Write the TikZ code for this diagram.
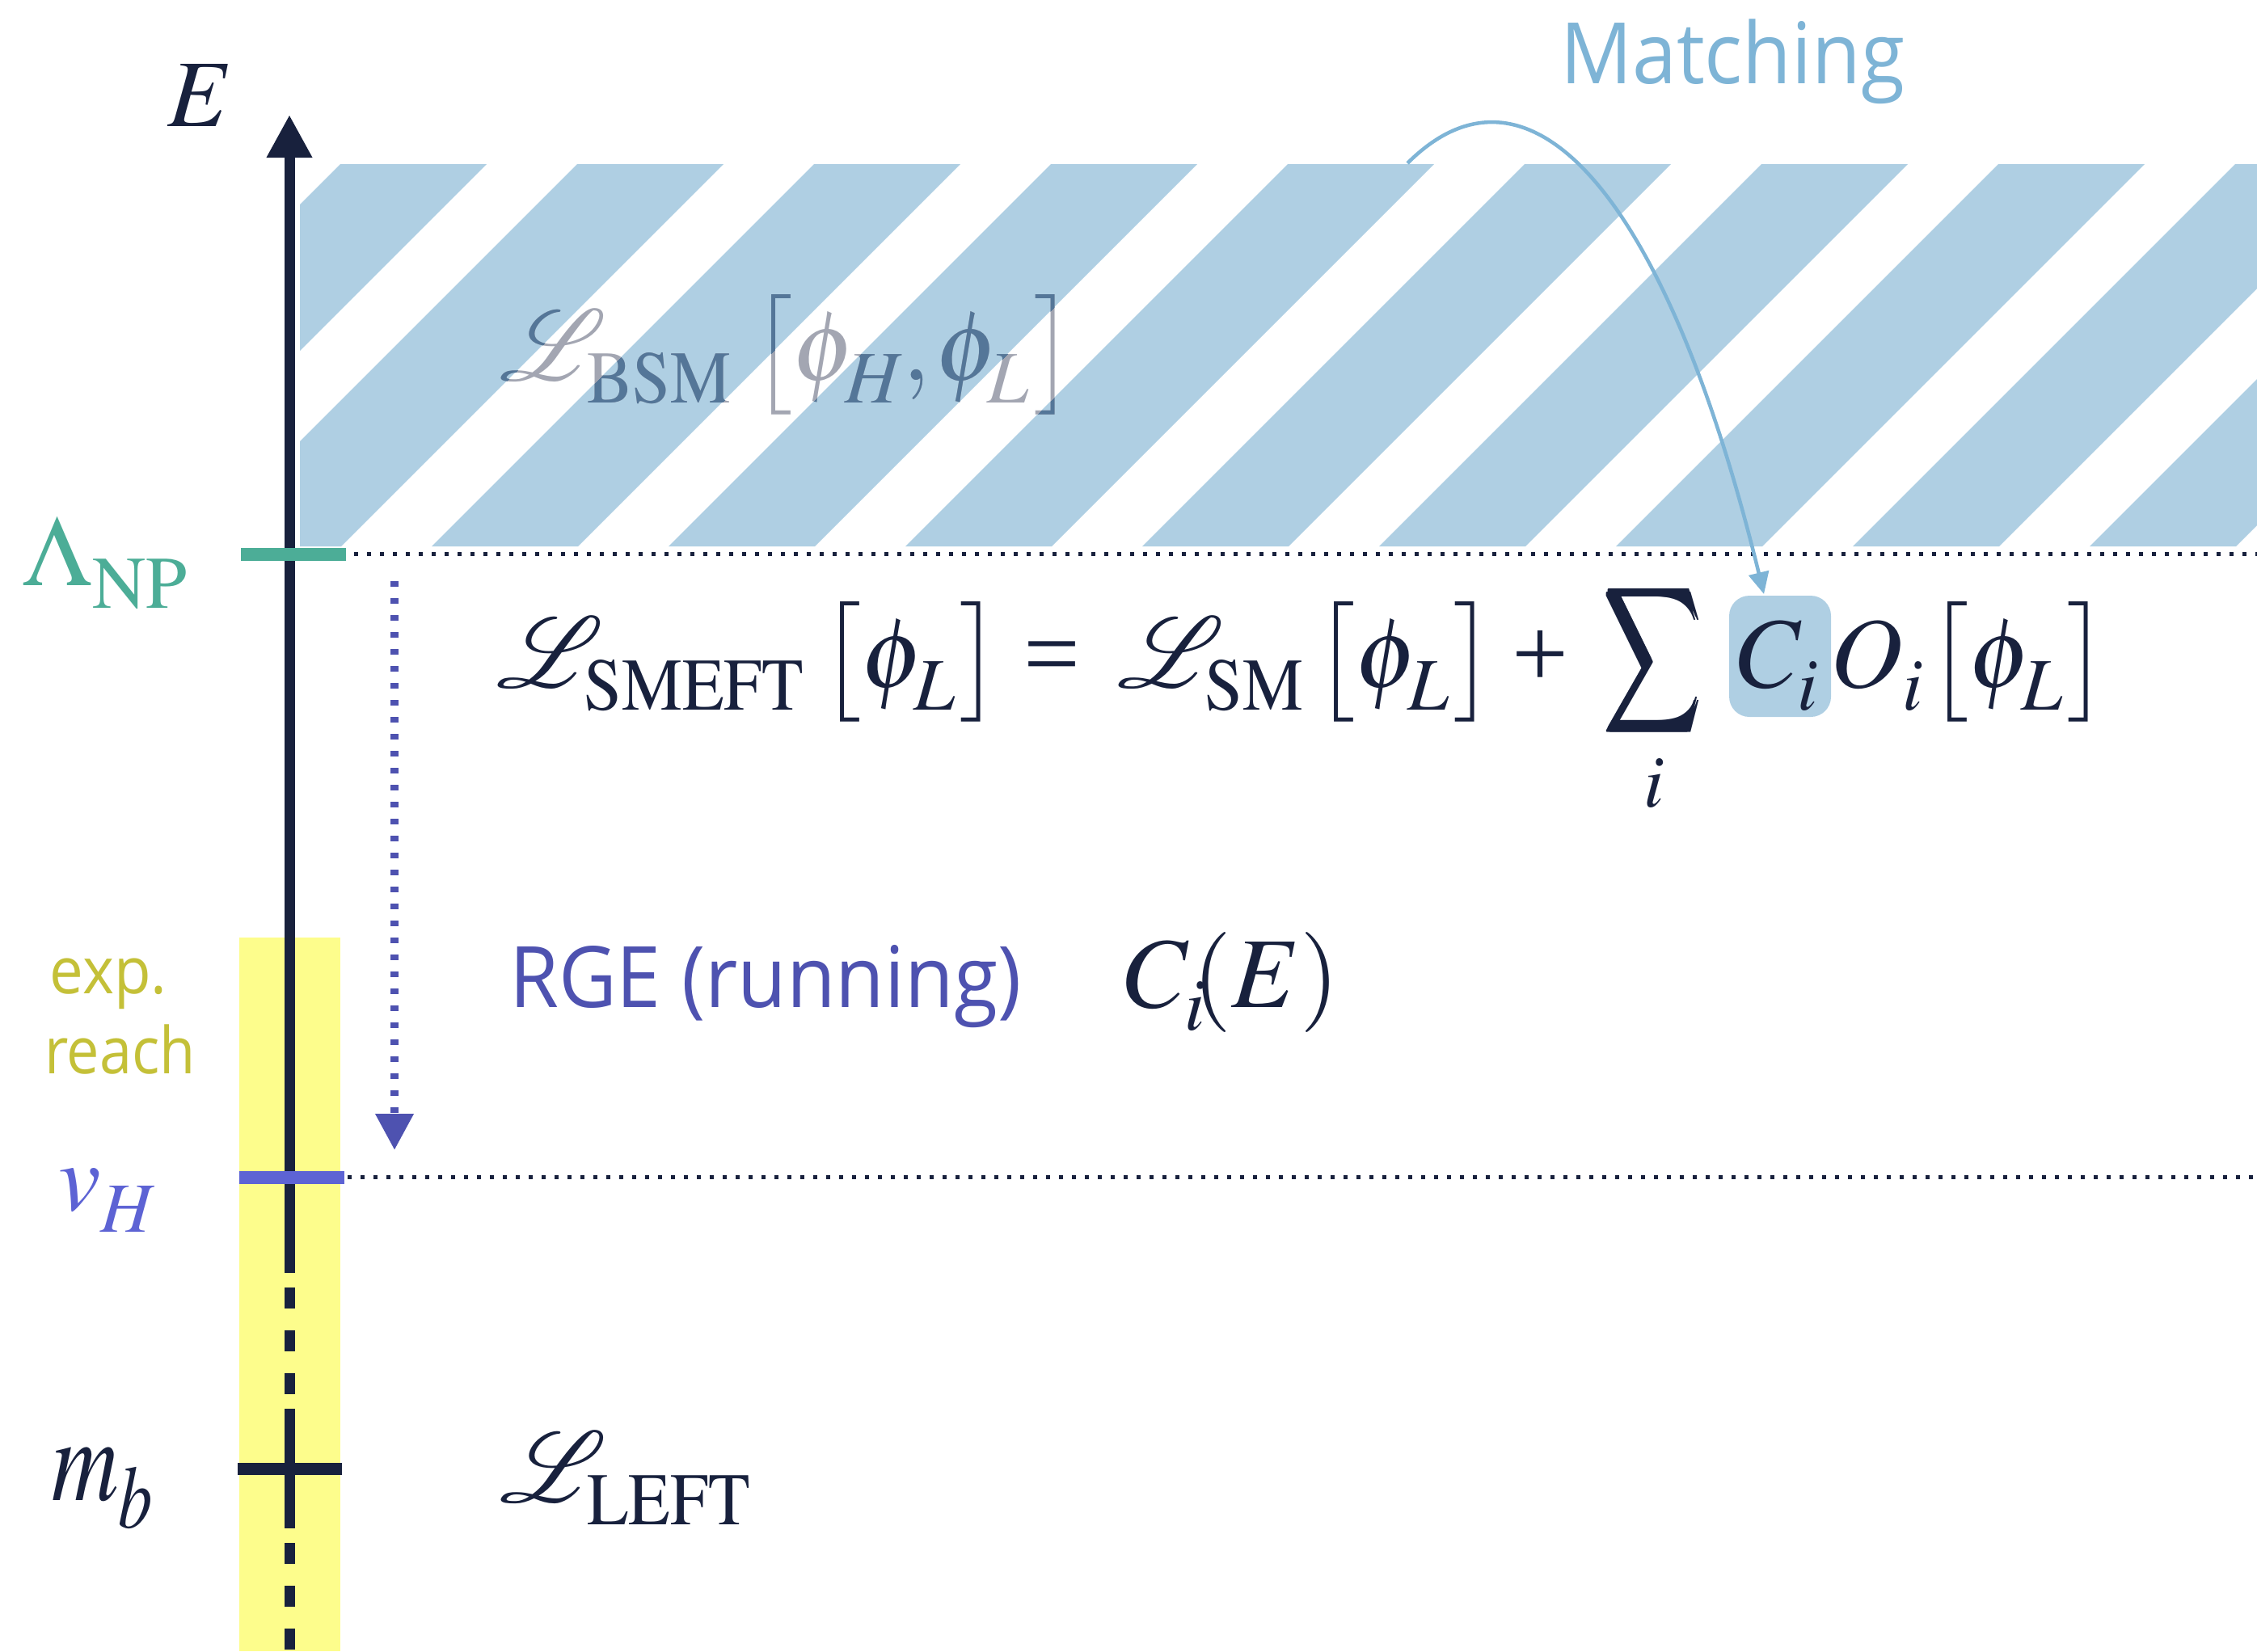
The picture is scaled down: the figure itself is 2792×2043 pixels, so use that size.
\documentclass[tikz,border=0pt]{standalone}
\usepackage{graphicx}
\usepackage{amsmath}
\usepackage{mathptmx}
\DeclareFontFamily{OMX}{mycmex}{}
\DeclareFontShape{OMX}{mycmex}{m}{n}{<-> cmex10}{}
\DeclareSymbolFont{largesymbols}{OMX}{mycmex}{m}{n}
\DeclareFontFamily{U}{rsfs}{\skewchar\font127 }
\DeclareFontShape{U}{rsfs}{m}{n}{<-> rsfs10}{}
\usepackage{mathrsfs}
\usepackage{fontspec}
\setmainfont{Liberation Serif}
\newfontfamily\osans{Open Sans}
\usetikzlibrary{arrows.meta}
\definecolor{navy}{RGB}{24,33,61}
\definecolor{tealc}{RGB}{76,173,151}
\definecolor{vhcol}{RGB}{93,99,212}
\definecolor{rgecol}{RGB}{78,82,176}
\definecolor{expyellow}{RGB}{253,253,140}
\definecolor{olive}{RGB}{196,192,56}
\definecolor{hatchblue}{RGB}{175,207,227}
\definecolor{matchcol}{RGB}{126,180,214}
\definecolor{bsmgray}{RGB}{163,166,178}
\definecolor{bsmblue}{RGB}{84,118,152}
% lowered subscript
\newcommand\dn[1]{\lower1pt\hbox{$\scriptstyle #1$}}
\newcommand\Lsub[1]{\mathscr{L}_{\dn{\scalebox{0.92}[1]{$\scriptstyle\mathrm{#1}$}}}}
\newcommand\bsmfields{$\bigl[\phi_{\dn{H}}\mkern-1mu{,}\mkern1mu\phi_{\dn{L}}\bigr]$}
\begin{document}
\begin{tikzpicture}[x=0.1pt,y=-0.1pt,
  lbl/.style={inner sep=0pt, anchor=base west},
  mathtxt/.style={lbl, text=navy, font=\fontsize{12.4}{15}\selectfont},
  sanstxt/.style={lbl, font=\osans\fontsize{10.5}{12}\selectfont},
  tickbar/.style={line width=1.6pt},
  levelline/.style={navy, line width=0.5pt, dash pattern=on 0.5pt off 1.1pt},
]
\useasboundingbox (0,0) rectangle (2792,2043);
% experimental reach band
\fill[expyellow] (296,1160) rectangle (421,2043);
% hatched BSM region
\begin{scope}
\clip (371,203) rectangle (2792,676);
\fill[hatchblue] \foreach \k in {0,...,10} {({421+293*\k},203) -- ({602+293*\k},203) -- ({129+293*\k},676) -- ({-52+293*\k},676) -- cycle};
\end{scope}
% BSM Lagrangian (two-tone)
\node[mathtxt, text=bsmgray] (lbsm) at (616,470) {$\Lsub{BSM}$};
\node[mathtxt, text=bsmgray] (bbsm) at (927,470) {\bsmfields};
\begin{scope}
\clip (371,203) rectangle (2792,676);
\clip \foreach \k in {0,...,10} {({421+293*\k},203) -- ({602+293*\k},203) -- ({129+293*\k},676) -- ({-52+293*\k},676) -- cycle};
\node[mathtxt, text=bsmblue] (lbsmover) at (616,470) {$\Lsub{BSM}$};
\node[mathtxt, text=bsmblue] (bbsmover) at (927,470) {\bsmfields};
\end{scope}
% energy axis
\coordinate (axtop) at (358,142);
\coordinate (axsolidend) at (358,1575);
\coordinate (axdashstart) at (358,1427);
\coordinate (axbot) at (358,2043);
\draw[navy, line width=1.3pt, -{Triangle[length=5.3pt,width=5.3pt]}] (axsolidend) -- (axtop);
\draw[navy, line width=1.3pt, dash pattern=on 14.8pt off 1.8pt on 2.6pt off 2.7pt on 2.6pt off 2.7pt on 2.6pt off 1.8pt] (axdashstart) -- (axbot);
% ticks
\coordinate (lamL) at (298,686); \coordinate (lamR) at (428,686);
\coordinate (vhL) at (296,1457); \coordinate (vhR) at (426,1457);
\coordinate (mbL) at (294,1817); \coordinate (mbR) at (423,1817);
\draw[tickbar, tealc] (lamL) -- (lamR);
\draw[tickbar, vhcol] (vhL) -- (vhR);
\draw[tickbar, navy, line width=1.5pt] (mbL) -- (mbR);
% level lines
\coordinate (lamS) at (438,685); \coordinate (lamE) at (2792,685);
\coordinate (vhS) at (430,1456); \coordinate (vhE) at (2792,1456);
\draw[levelline] (lamS) -- (lamE);
\draw[levelline] (vhS) -- (vhE);
% RGE running arrow
\coordinate (rgeS) at (488,719); \coordinate (rgeE) at (488,1423);
\draw[rgecol, line width=1.0pt, dash pattern=on 0.7pt off 1.4pt, -{Triangle[length=4.5pt,width=4.5pt]}] (rgeS) -- (rgeE);
% axis labels
\node[mathtxt, font=\fontsize{11.8}{14}\selectfont] (E) at (205,156) {$E$};
\node[mathtxt, text=tealc] (lam) at (27,724) {$\Lambda_{\dn{\mathrm{NP}}}$};
\node[mathtxt, text=vhcol, font=\fontsize{11.8}{14}\selectfont] (vh) at (70,1497) {$v_{\dn{H}}$};
\node[mathtxt] (mb) at (62,1856) {\scalebox{0.92}[1.2]{$m_{\dn{b}}$}};
\node[lbl, text=olive, font=\osans\fontsize{8}{10}\selectfont] (exp) at (60,1229) {\scalebox{0.93}[1]{exp.}};
\node[lbl, text=olive, font=\osans\fontsize{8}{10}\selectfont] (reach) at (53,1328) {\scalebox{0.9}[1]{reach}};
% SMEFT equation
\node[mathtxt] (lsmeft) at (612,850) {$\Lsub{SMEFT}$};
\node[mathtxt] (br1) at (1012,850) {$\bigl[\phi_{\dn{L}}\bigr]$};
\node[mathtxt] (eqsign) at (1264,850) {=};
\node[mathtxt] (lsm) at (1380,850) {$\Lsub{SM}$};
\node[mathtxt] (br2) at (1623,850) {$\bigl[\phi_{\dn{L}}\bigr]$};
\node[mathtxt] (plus) at (1868,850) {+};
\node[mathtxt] (sum) at (1984,850) {$\mathop{\scalebox{0.67}[1]{$\displaystyle\pmb{\sum}$}}\limits_i$};
\node[mathtxt, fill=hatchblue, rounded corners=2.5pt, minimum width=12.6pt, text height=11.3pt, text depth=3.7pt, align=center] (ci) at (2137,850) {$C_{\dn{i}}$};
\node[mathtxt] (oi) at (2262,850) {$O_{\dn{i}}$};
\node[mathtxt] (br3) at (2382,850) {$\bigl[\phi_{\dn{L}}\bigr]$};
% RGE
\node[sanstxt, text=rgecol] (rge) at (628,1246) {\scalebox{0.94}[1]{RGE (running)}};
\node[mathtxt] (cie) at (1390,1246) {$C_{\dn{i}}\mkern-3mu(E)$};
% LEFT
\node[mathtxt] (left) at (616,1858) {$\Lsub{LEFT}$};
% Matching
\node[sanstxt, text=matchcol] (match) at (1928,103) {\scalebox{0.94}[1]{Matching}};
\coordinate (mstart) at (1741,202);
\draw[matchcol, line width=0.45pt, -{Triangle[length=2.7pt,width=2.5pt]}] (mstart) .. controls (1891,52) and (2060,237) .. ([xshift=-2pt]ci.north);
\end{tikzpicture}
\end{document}
